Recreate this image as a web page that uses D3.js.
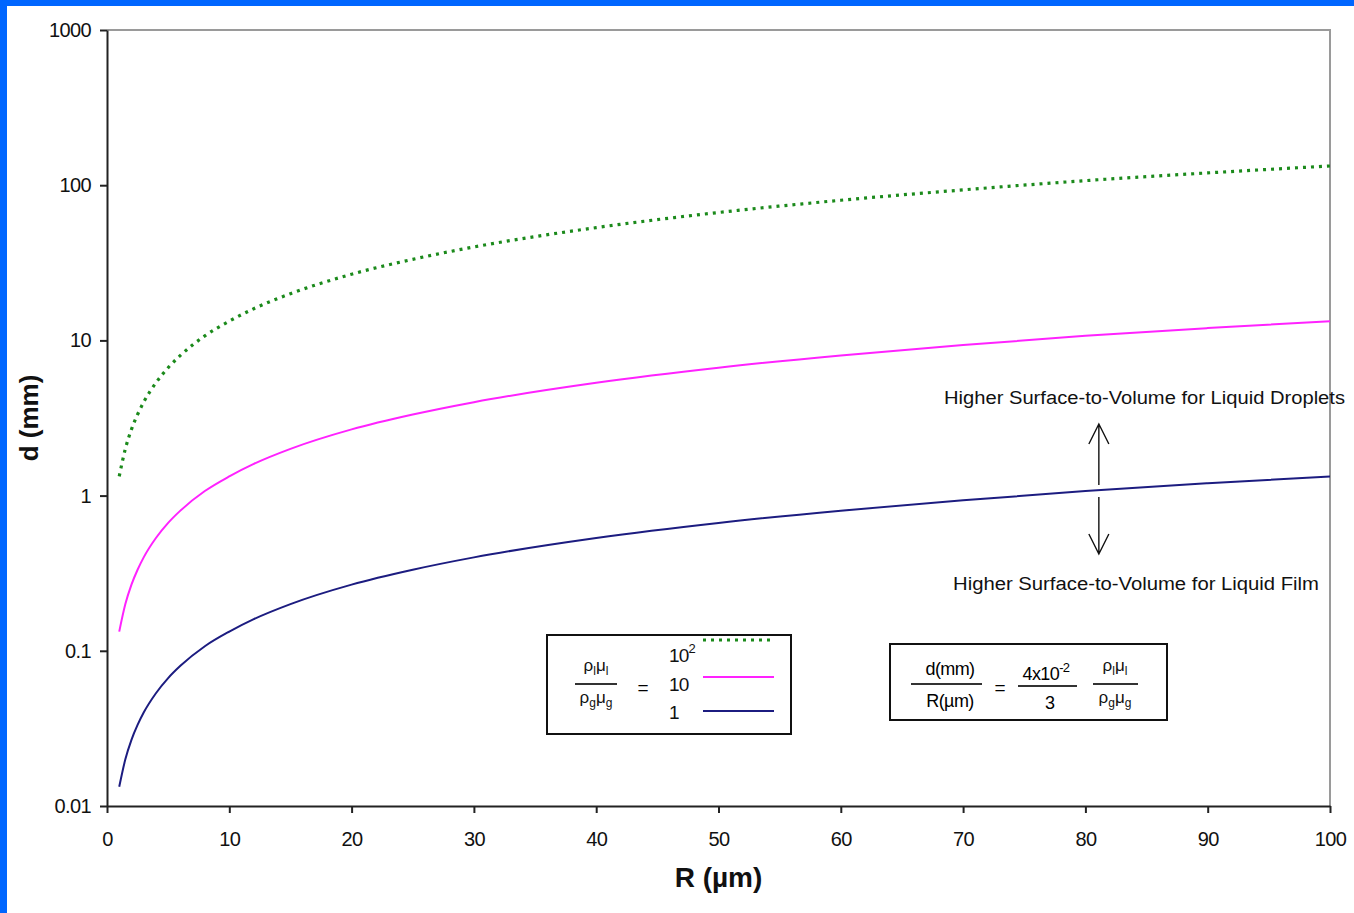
<!DOCTYPE html>
<html>
<head>
<meta charset="utf-8">
<script src="https://cdn.jsdelivr.net/npm/d3@7"></script>
<style>
  html, body { margin: 0; padding: 0; background: #fff; }
  svg { display: block; font-family: "Liberation Sans", Arial, sans-serif; }
</style>
</head>
<body>
<svg id="chart"></svg>
<script>
// radius R (µm) where values were read
const radius = [1, 1.5, 2, 2.5, 3, 4, 5, 6, 8, 10, 12, 15, 20, 25, 30, 40, 50, 60, 70, 80, 90, 100]
// d (mm) for each density-viscosity ratio
const ratio1 = [0.0133, 0.02, 0.0267, 0.0333, 0.04, 0.0533, 0.0667, 0.08, 0.107, 0.133, 0.16, 0.2, 0.267, 0.333, 0.4, 0.533, 0.667, 0.8, 0.933, 1.07, 1.2, 1.33]
const ratio10 = [0.133, 0.2, 0.267, 0.333, 0.4, 0.533, 0.667, 0.8, 1.07, 1.33, 1.6, 2.0, 2.67, 3.33, 4.0, 5.33, 6.67, 8.0, 9.33, 10.7, 12.0, 13.3]
const ratio100 = [1.33, 2.0, 2.67, 3.33, 4.0, 5.33, 6.67, 8.0, 10.7, 13.3, 16.0, 20.0, 26.7, 33.3, 40.0, 53.3, 66.7, 80.0, 93.3, 107, 120, 133]
const xTicks = [0, 10, 20, 30, 40, 50, 60, 70, 80, 90, 100]
const yTicks = [0.01, 0.1, 1, 10, 100, 1000]

const width = 1354, height = 913
const margin = { top: 30, right: 24, bottom: 107, left: 107 }

const svg = d3.select("#chart").attr("width", width).attr("height", height)

// blue frame on left and top
svg.append("rect").attr("x", 0).attr("y", 0).attr("width", width).attr("height", 6).attr("fill", "#0066ff")
svg.append("rect").attr("x", 0).attr("y", 0).attr("width", 7).attr("height", height).attr("fill", "#0066ff")

const x = d3.scaleLinear().domain([0, 100]).range([margin.left, width - margin.right])
const y = d3.scaleLog().domain([0.01, 1000]).range([height - margin.bottom, margin.top])

// top / right border (grey)
svg.append("path")
  .attr("d", `M${x(0)},${y(1000)}H${x(100)}V${y(0.01)}`)
  .attr("fill", "none").attr("stroke", "#9a9a9a").attr("stroke-width", 2)

// axes
const xAxis = svg.append("g")
  .attr("transform", `translate(0,${y(0.01)})`)
  .call(d3.axisBottom(x).tickValues(xTicks).tickSize(7).tickPadding(10).tickSizeOuter(0))
const yAxis = svg.append("g")
  .attr("transform", `translate(${x(0)},0)`)
  .call(d3.axisLeft(y).tickValues(yTicks).tickSize(7).tickPadding(9).tickSizeOuter(0)
    .tickFormat(d => d3.format("~g")(d)))

;[xAxis, yAxis].forEach(g => {
  g.select(".domain").attr("stroke", "#222").attr("stroke-width", 2)
  g.selectAll(".tick line").attr("stroke", "#222").attr("stroke-width", 2)
  g.selectAll(".tick text")
    .attr("fill", "#111")
    .style("font-size", "20px")
    .style("letter-spacing", "-0.6px")
    .style("font-family", "'Liberation Sans', Arial, sans-serif")
})
xAxis.selectAll(".tick text").attr("dy", "1.15em")

// axis titles
svg.append("text")
  .attr("x", x(50)).attr("y", 887)
  .attr("text-anchor", "middle")
  .style("font-size", "28px").style("font-weight", "bold").attr("fill", "#111")
  .text("R (µm)")
svg.append("text")
  .attr("transform", `translate(38,${(y(0.01) + y(1000)) / 2}) rotate(-90)`)
  .attr("text-anchor", "middle")
  .style("font-size", "26px").style("font-weight", "bold").attr("fill", "#111")
  .text("d (mm)")

// curves
const series = [
  { values: ratio100, color: "#1b8a1b", width: 3.2, dash: "3,5" },
  { values: ratio10, color: "#ff22ff", width: 2, dash: null },
  { values: ratio1, color: "#1c1c80", width: 2, dash: null },
]
const line = d3.line().x(d => x(d[0])).y(d => y(d[1])).curve(d3.curveMonotoneX)
series.forEach(s => {
  svg.append("path")
    .datum(radius.map((r, i) => [r, s.values[i]]))
    .attr("d", line)
    .attr("fill", "none")
    .attr("stroke", s.color)
    .attr("stroke-width", s.width)
    .attr("stroke-dasharray", s.dash)
})

// annotation text + arrows
const small = "18px"
svg.append("text").attr("x", 944).attr("y", 404)
  .attr("textLength", 401).attr("lengthAdjust", "spacingAndGlyphs")
  .style("font-size", small).attr("fill", "#111")
  .text("Higher Surface-to-Volume for Liquid Droplets")
svg.append("text").attr("x", 953).attr("y", 590)
  .attr("textLength", 366).attr("lengthAdjust", "spacingAndGlyphs")
  .style("font-size", small).attr("fill", "#111")
  .text("Higher Surface-to-Volume for Liquid Film")

const ax = x(81.1)
const arrow = svg.append("g").attr("fill", "none").attr("stroke", "#111").attr("stroke-width", 1.4)
arrow.append("path").attr("d", `M${ax},485V424M${ax - 10},444L${ax},424L${ax + 10},444`)
arrow.append("path").attr("d", `M${ax},497V554M${ax - 10},534L${ax},554L${ax + 10},534`)

// helper for rho/mu with subscripts
function ratioText(g, cx, yy, sub) {
  const t = g.append("text").attr("x", cx).attr("y", yy).attr("text-anchor", "middle")
    .style("font-size", "17px").attr("fill", "#111")
  t.append("tspan").text("ρ")
  t.append("tspan").attr("dy", 4).style("font-size", "12px").text(sub)
  t.append("tspan").attr("dy", -4).text("μ")
  t.append("tspan").attr("dy", 4).style("font-size", "12px").text(sub)
}

// legend box 1
const lg = svg.append("g")
lg.append("rect").attr("x", 547).attr("y", 635).attr("width", 244).attr("height", 99)
  .attr("fill", "#fff").attr("stroke", "#111").attr("stroke-width", 2)
ratioText(lg, 596, 671, "l")
lg.append("line").attr("x1", 575).attr("x2", 617).attr("y1", 684).attr("y2", 684).attr("stroke", "#333").attr("stroke-width", 2)
ratioText(lg, 596, 703, "g")
lg.append("text").attr("x", 643).attr("y", 694).attr("text-anchor", "middle").style("font-size", "19px").text("=")
const legendRows = [
  { label: "10", sup: "2", s: series[0], yy: 662, ly: 640 },
  { label: "10", sup: null, s: series[1], yy: 691, ly: 677 },
  { label: "1", sup: null, s: series[2], yy: 719, ly: 711 },
]
legendRows.forEach(r => {
  const t = lg.append("text").attr("x", 669).attr("y", r.yy).style("font-size", "19px").style("letter-spacing", "-0.8px").attr("fill", "#111").text(r.label)
  if (r.sup) t.append("tspan").attr("dy", -9).style("font-size", "13px").text(r.sup)
  lg.append("line").attr("x1", 703).attr("x2", 774).attr("y1", r.ly).attr("y2", r.ly)
    .attr("stroke", r.s.color).attr("stroke-width", r.s.width).attr("stroke-dasharray", r.s.dash)
})

// formula box
const fb = svg.append("g")
fb.append("rect").attr("x", 890).attr("y", 644).attr("width", 277).attr("height", 76)
  .attr("fill", "#fff").attr("stroke", "#111").attr("stroke-width", 2)
fb.append("text").attr("x", 950).attr("y", 675).attr("text-anchor", "middle").style("font-size", "18px").style("letter-spacing", "-0.6px").text("d(mm)")
fb.append("line").attr("x1", 911).attr("x2", 982).attr("y1", 684).attr("y2", 684).attr("stroke", "#333").attr("stroke-width", 2)
fb.append("text").attr("x", 950).attr("y", 707).attr("text-anchor", "middle").style("font-size", "18px").style("letter-spacing", "-0.6px").text("R(µm)")
fb.append("text").attr("x", 1000).attr("y", 694).attr("text-anchor", "middle").style("font-size", "19px").text("=")
const num = fb.append("text").attr("x", 1046).attr("y", 680).attr("text-anchor", "middle").style("font-size", "18px").style("letter-spacing", "-0.6px").text("4x10")
num.append("tspan").attr("dy", -8).style("font-size", "13px").text("-2")
fb.append("line").attr("x1", 1018).attr("x2", 1077).attr("y1", 686).attr("y2", 686).attr("stroke", "#333").attr("stroke-width", 2)
fb.append("text").attr("x", 1050).attr("y", 709).attr("text-anchor", "middle").style("font-size", "18px").text("3")
ratioText(fb, 1115, 671, "l")
fb.append("line").attr("x1", 1093).attr("x2", 1138).attr("y1", 684).attr("y2", 684).attr("stroke", "#333").attr("stroke-width", 2)
ratioText(fb, 1115, 703, "g")
</script>
</body>
</html>
